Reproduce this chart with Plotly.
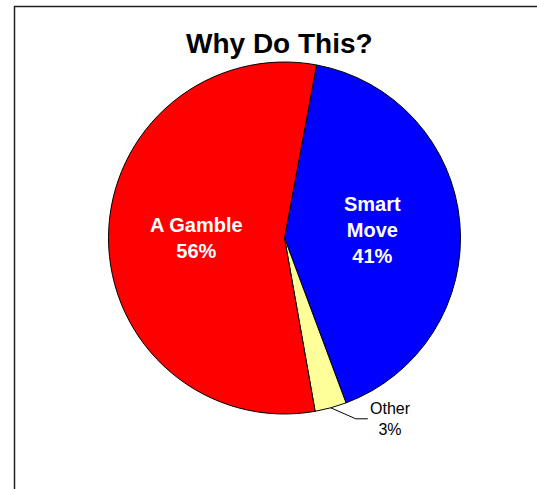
import math
import plotly.graph_objects as go

labels = ["Smart Move", "Other", "A Gamble"]
values = [41.4, 2.9, 55.7]
label_text = ["Smart<br>Move", "Other", "A Gamble"]
colors = ["#0000FF", "#FFFF99", "#FF0000"]
title = "Why Do This?"

W, H = 537, 489
cx, cy, R = 284.5, 238.0, 176.0
rotation = 10.5
FONT = "Liberation Sans, Arial"

fig = go.Figure(go.Pie(
    labels=labels, values=values, sort=False, direction="clockwise",
    rotation=rotation, textinfo="none", hoverinfo="label+percent",
    marker=dict(colors=colors, line=dict(color="black", width=1)),
    domain=dict(x=[(cx - R) / W, (cx + R) / W], y=[1 - (cy + R) / H, 1 - (cy - R) / H]),
    showlegend=False,
))

total = sum(values)
ann = []
start = rotation
for lab, v in zip(label_text, values):
    span = 360 * v / total
    mid = math.radians(start + span / 2)
    pct = f"{round(100 * v / total)}%"
    if v / total > 0.1:
        px = cx + 0.5 * R * math.sin(mid)
        py = cy - 0.5 * R * math.cos(mid)
        ann.append(dict(x=px / W, y=1 - py / H, xref="paper", yref="paper",
                        xanchor="center", yanchor="middle",
                        text=f"<b>{lab}<br>{pct}</b>", showarrow=False,
                        font=dict(family=FONT, size=20, color="white")))
    else:
        ex = cx + R * math.sin(mid)
        ey = cy - R * math.cos(mid)
        fig.add_shape(type="line", xref="paper", yref="paper",
                      x0=ex / W, y0=1 - ey / H, x1=(ex + 25) / W, y1=1 - (ey + 11) / H,
                      line=dict(color="black", width=1))
        fig.add_shape(type="line", xref="paper", yref="paper",
                      x0=(ex + 25) / W, y0=1 - (ey + 11) / H, x1=(ex + 37) / W, y1=1 - (ey + 11) / H,
                      line=dict(color="black", width=1))
        ann.append(dict(x=(ex + 60) / W, y=1 - (ey - 10) / H, xref="paper", yref="paper",
                        xanchor="center", yanchor="top",
                        text=f"{lab}<br>{pct}", showarrow=False,
                        font=dict(family=FONT, size=16, color="black")))
    start += span

ann.append(dict(x=279 / W, y=1 - 44 / H, xref="paper", yref="paper", text=f"<b>{title}</b>",
                xanchor="center", yanchor="middle",
                showarrow=False, font=dict(family=FONT, size=28, color="black")))

fig.add_shape(type="rect", xref="paper", yref="paper", x0=14.5 / W, x1=1.02, y0=-0.02, y1=1 - 6.5 / H,
              line=dict(color="#202020", width=1.5))

fig.update_layout(width=W, height=H, margin=dict(l=0, r=0, t=0, b=0),
                  paper_bgcolor="white", plot_bgcolor="white", annotations=ann)
fig.write_html("out.html")
